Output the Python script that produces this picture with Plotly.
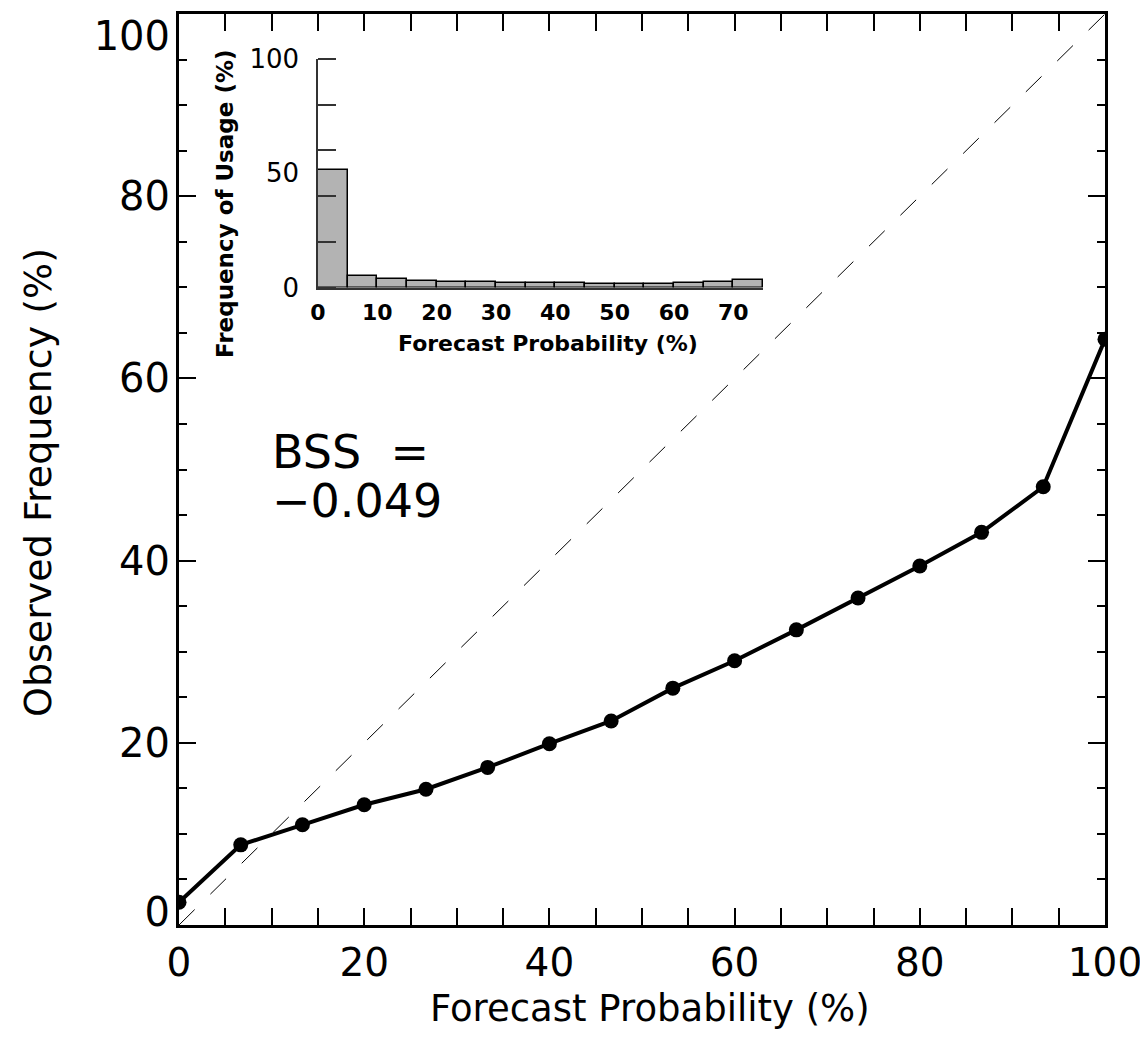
import plotly.graph_objects as go

# ---------------- data ----------------
forecast_prob = [0, 6.67, 13.33, 20, 26.67, 33.33, 40, 46.67, 53.33, 60,
                 66.67, 73.33, 80, 86.67, 93.33, 100]
observed_freq = [2.5, 8.8, 11.0, 13.2, 14.9, 17.3, 19.9, 22.4, 26.0, 29.0,
                 32.4, 35.9, 39.4, 43.1, 48.1, 64.3]
diag_x = [0, 100]
diag_y = [0, 100]

usage_bin_center = [2.5, 7.5, 12.5, 17.5, 22.5, 27.5, 32.5, 37.5, 42.5,
                    47.5, 52.5, 57.5, 62.5, 67.5, 72.5]
usage_freq = [51.5, 5.2, 3.8, 2.9, 2.6, 2.2, 2.0, 1.9, 1.9, 1.7, 1.7, 1.7,
              1.9, 2.2, 3.4]

main_ticks = [0, 20, 40, 60, 80, 100]
main_tick_text = ["0", "20", "40", "60", "80", "100"]
# y tick labels are nudged inward at the ends, like the original
main_ylabel_pos = [1.4, 20, 40, 60, 80, 97.6]
inset_xticks = [0, 10, 20, 30, 40, 50, 60, 70]
inset_yticks = [0, 50, 100]
inset_yminor = [0, 20, 40, 60, 80, 100]

bss_label = "BSS\u00a0\u00a0="
bss_value = "\u22120.049"

FONT = "DejaVu Sans"
BODY = 8                      # page body margin around the figure div
W, H = 1148 - BODY, 1055 - BODY
PLOT_L, PLOT_R, PLOT_T, PLOT_B = 179, 1105, 14, 925   # page pixels
L, T = PLOT_L - BODY, PLOT_T - BODY
R, B = 1148 - PLOT_R, 1055 - PLOT_B
PW, PH = PLOT_R - PLOT_L, PLOT_B - PLOT_T


def px_x(p):
    return (p - PLOT_L) / PW


def px_y(p):
    return (PLOT_B - p) / PH


fig = go.Figure()

fig.add_trace(go.Scatter(
    x=diag_x, y=diag_y, mode="lines",
    line=dict(color="black", width=1, dash="22px,22px"),
    hoverinfo="skip", showlegend=False))

fig.add_trace(go.Scatter(
    x=forecast_prob, y=observed_freq, mode="lines+markers",
    line=dict(color="black", width=4),
    marker=dict(color="black", size=15, symbol="circle"),
    showlegend=False))

# invisible trace so the label-only y axis is rendered
fig.add_trace(go.Scatter(
    x=[None], y=[None], mode="markers", yaxis="y3",
    hoverinfo="skip", showlegend=False))

fig.add_trace(go.Bar(
    x=usage_bin_center, y=usage_freq, width=5,
    marker=dict(color="#b3b3b3", line=dict(color="black", width=1.5)),
    xaxis="x2", yaxis="y2", showlegend=False))

axis_common = dict(showgrid=False, zeroline=False, automargin=False)

fig.update_layout(
    template="none",
    width=W, height=H,
    margin=dict(l=L, r=R, t=T, b=B, pad=0),
    paper_bgcolor="white", plot_bgcolor="rgba(0,0,0,0)",
    font=dict(family=FONT, color="black"),
    xaxis=dict(
        **axis_common, range=[0, 100], domain=[0, 1], anchor="y",
        showline=True, linecolor="black", linewidth=3, mirror="allticks",
        ticks="inside", ticklen=17, tickwidth=2, tickcolor="black",
        tickvals=main_ticks, ticktext=main_tick_text,
        tickfont=dict(size=39, family=FONT), ticklabelstandoff=1,
        ticklabeloverflow="allow",
        minor=dict(dtick=5, tick0=0, ticks="inside", ticklen=8,
                   tickwidth=2, tickcolor="black", showgrid=False),
    ),
    yaxis=dict(
        **axis_common, range=[0, 100], domain=[0, 1], anchor="x",
        showline=True, linecolor="black", linewidth=3, mirror="allticks",
        ticks="inside", ticklen=17, tickwidth=2, tickcolor="black",
        tickvals=main_ticks, showticklabels=False,
        minor=dict(dtick=5, tick0=0, ticks="inside", ticklen=8,
                   tickwidth=2, tickcolor="black", showgrid=False),
    ),
    yaxis3=dict(
        **axis_common, range=[0, 100], overlaying="y", anchor="x",
        side="left", showline=False, ticks="",
        tickvals=main_ylabel_pos, ticktext=main_tick_text,
        tickfont=dict(size=40, family=FONT), ticklabelstandoff=8,
        ticklabeloverflow="allow",
    ),
    xaxis2=dict(
        **axis_common, range=[0, 75], anchor="y2",
        domain=[px_x(318), px_x(763)],
        showline=True, linecolor="#333333", linewidth=1.5,
        ticks="", tickvals=inset_xticks,
        tickfont=dict(size=22, family=FONT, weight="bold"),
        ticklabelstandoff=4,
    ),
    yaxis2=dict(
        **axis_common, range=[0, 100], anchor="x2",
        domain=[px_y(287.5), px_y(59)],
        showline=True, linecolor="#333333", linewidth=1.5,
        ticks="", tickvals=inset_yticks,
        tickfont=dict(size=26, family=FONT), ticklabelstandoff=12,
        minor=dict(tickvals=inset_yminor, ticks="inside", ticklen=18,
                   tickwidth=1.5, tickcolor="#333333", showgrid=False),
    ),
    bargap=0,
)

annotations = [
    dict(text="Forecast Probability (%)", x=px_x(650), y=px_y(1008),
         xref="paper", yref="paper", xanchor="center", yanchor="middle",
         showarrow=False, font=dict(size=37, family=FONT)),
    dict(text="Observed Frequency (%)", x=px_x(38), y=px_y(483),
         xref="paper", yref="paper", xanchor="center", yanchor="middle",
         textangle=-90, showarrow=False, font=dict(size=38, family=FONT)),
    dict(text="<b>Forecast Probability (%)</b>", x=px_x(548), y=px_y(343),
         xref="paper", yref="paper", xanchor="center", yanchor="middle",
         showarrow=False, font=dict(size=22, family=FONT)),
    dict(text="<b>Frequency of Usage (%)</b>", x=px_x(225), y=px_y(204),
         xref="paper", yref="paper", xanchor="center", yanchor="middle",
         textangle=-90, showarrow=False, font=dict(size=23, family=FONT)),
    dict(text=bss_label, x=px_x(270), y=px_y(452),
         xref="paper", yref="paper", xanchor="left", yanchor="middle",
         showarrow=False, font=dict(size=46, family=FONT)),
    dict(text=bss_value, x=px_x(270), y=px_y(501),
         xref="paper", yref="paper", xanchor="left", yanchor="middle",
         showarrow=False, font=dict(size=46, family=FONT)),
]
fig.update_layout(annotations=annotations)

fig.write_html("out.html")
